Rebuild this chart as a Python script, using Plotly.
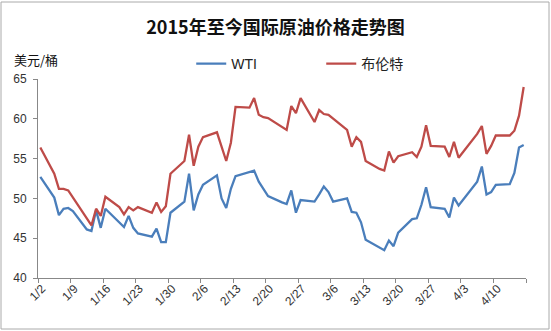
import pandas as pd
import plotly.graph_objects as go

# Trading days, 2 Jan - 16 Apr 2015
dates = (
    ["2015-01-%02d" % d for d in [2, 5, 6, 7, 8, 9, 12, 13, 14, 15, 16, 19, 20, 21, 22, 23, 26, 27, 28, 29, 30]]
    + ["2015-02-%02d" % d for d in [2, 3, 4, 5, 6, 9, 10, 11, 12, 13, 16, 17, 18, 19, 20, 23, 24, 25, 26, 27]]
    + ["2015-03-%02d" % d for d in [2, 3, 4, 5, 6, 9, 10, 11, 12, 13, 16, 17, 18, 19, 20, 23, 24, 25, 26, 27, 30, 31]]
    + ["2015-04-%02d" % d for d in [1, 2, 6, 7, 8, 9, 10, 13, 14, 15, 16]]
)

# WTI, USD/bbl (None = US market holiday)
wti = [
    52.7, 50.1, 47.9, 48.7, 48.8, 48.4, 46.1, 45.9, 48.5, 46.3, 48.7, None, 46.4, 47.8, 46.3, 45.6, 45.2, 46.2, 44.5, 44.5, 48.2,
    49.6, 53.1, 48.5, 50.5, 51.7, 52.9, 50.0, 48.8, 51.2, 52.8, None, 53.5, 52.1, 51.2, 50.3, 49.5, 49.3, 51.0, 48.2, 49.8,
    49.6, 50.5, 51.5, 50.8, 49.6, 50.0, 48.3, 48.2, 47.0, 44.8, 43.9, 43.5, 44.7, 44.0, 45.7, 47.4, 47.5, 49.2, 51.4, 48.9, 48.7, 47.6,
    50.1, 49.1, 52.1, 54.0, 50.5, 50.8, 51.7, 51.8, 53.2, 56.4, 56.7,
]

# Brent, USD/bbl
brent = [
    56.4, 53.1, 51.2, 51.2, 51.0, 50.1, 47.4, 46.6, 48.7, 47.8, 50.2, 48.9, 48.0, 48.9, 48.5, 48.9, 48.2, 49.5, 48.3, 49.0, 53.1,
    54.7, 58.0, 54.1, 56.5, 57.7, 58.3, 56.4, 54.7, 57.0, 61.5, 61.4, 62.6, 60.5, 60.2, 60.1, 59.0, 58.6, 61.6, 60.7, 62.6,
    59.6, 61.1, 60.6, 60.5, 60.0, 58.6, 56.5, 57.7, 57.1, 54.7, 53.7, 53.5, 55.9, 54.5, 55.3, 55.8, 55.2, 56.5, 59.2, 56.6, 56.5, 55.2,
    57.1, 55.1, 58.1, 59.1, 55.6, 56.6, 57.9, 57.9, 58.5, 60.4, 64.0,
]

tick_labels = ["1/2", "1/9", "1/16", "1/23", "1/30", "2/6", "2/13", "2/20",
               "2/27", "3/6", "3/13", "3/20", "3/27", "4/3", "4/10"]

title = "2015年至今国际原油价格走势图"
unit = "美元/桶"
names = ["WTI", "布伦特"]
colors = ["#4A7EBB", "#BE4B48"]

# each day is a slot on the date axis; points sit in the middle of their slot
x = pd.to_datetime(dates) + pd.Timedelta(hours=12)
start = pd.Timestamp("2015-01-02")
tickvals = [start + pd.Timedelta(days=7 * i) for i in range(len(tick_labels) + 1)]
ticktext = tick_labels + [""]

cjk = "Noto Sans CJK SC, Noto Sans, sans-serif"
lat = "Liberation Sans, Noto Sans CJK SC, sans-serif"

fig = go.Figure()
for name, vals, col in zip(names, [wti, brent], colors):
    fig.add_trace(go.Scatter(
        x=x, y=vals, name=name, mode="lines", connectgaps=True,
        line=dict(color=col, width=2.3),
    ))

axis_col = "#888888"
fig.update_layout(
    width=551, height=331,
    margin=dict(l=38, r=25, t=79, b=53),
    paper_bgcolor="white", plot_bgcolor="white",
    showlegend=True,
    legend=dict(
        orientation="h", x=0.314, xanchor="left", y=1.075, yanchor="middle",
        font=dict(family=lat, size=14, color="#222222"),
        entrywidth=85, entrywidthmode="pixels",
        bgcolor="rgba(0,0,0,0)", itemclick=False,
    ),
    title=dict(
        text="<b>" + title + "</b>", x=0.5, xanchor="center", y=1 - 28 / 331, yanchor="middle",
        font=dict(family=cjk, size=18, color="#111111"),
    ),
    xaxis=dict(
        type="date", range=[start, tickvals[-1]],
        tickmode="array", tickvals=tickvals, ticktext=ticktext, tickangle=-45,
        showgrid=False, zeroline=False,
        showline=True, linecolor=axis_col, linewidth=1,
        ticks="outside", ticklen=4, tickcolor=axis_col,
        ticklabelstandoff=-6, ticklabelshift=4,
        tickfont=dict(family=lat, size=12, color="#333333"),
    ),
    yaxis=dict(
        range=[40, 65], dtick=5, tick0=40,
        showgrid=False, zeroline=False,
        showline=True, linecolor=axis_col, linewidth=1,
        ticks="outside", ticklen=4, tickcolor=axis_col,
        ticklabelstandoff=4,
        tickfont=dict(family=lat, size=12, color="#333333"),
    ),
    annotations=[dict(
        text=unit, xref="paper", yref="paper",
        x=-26 / 488, y=1 + 20 / 199, xanchor="left", yanchor="middle",
        showarrow=False, font=dict(family=cjk, size=13, color="#111111"),
    )],
    shapes=[dict(
        type="rect", xref="paper", yref="paper",
        x0=-37 / 488, x1=1 + 23 / 488, y0=-51 / 199, y1=1 + 77 / 199,
        line=dict(color="#AAAAAA", width=1), fillcolor="rgba(0,0,0,0)",
    )],
)

fig.write_html("out.html")
